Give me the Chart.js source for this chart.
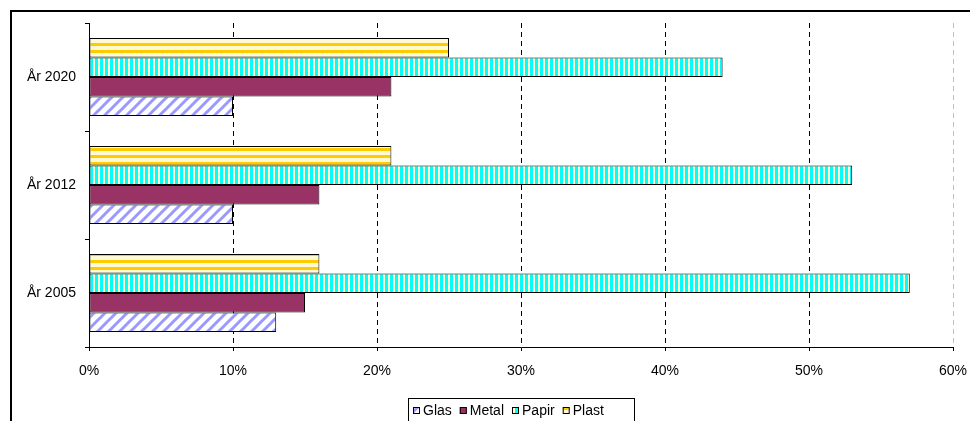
<!DOCTYPE html>
<html>
<head>
<meta charset="utf-8">
<script src="https://cdn.jsdelivr.net/npm/chart.js@4/dist/chart.umd.min.js"></script>
<style>
  html, body { margin: 0; padding: 0; background: #fff; overflow: hidden; }
  #wrap { position: relative; width: 970px; height: 421px; overflow: hidden; }
  #frame { position: absolute; left: 10px; top: 10px; width: 1200px; height: 800px;
           border-left: 2px solid #000; border-top: 2px solid #000; }
  canvas { position: absolute; left: 0; top: 0; }
</style>
</head>
<body>
<div id="wrap">
  <div id="frame"></div>
  <canvas id="chart" width="970" height="421"></canvas>
</div>
<script>
// --- Data ---
const categories = ['År 2020', 'År 2012', 'År 2005']
const glas = [10, 10, 13]
const metal = [21, 16, 15]
const papir = [44, 53, 57]
const plast = [25, 21, 16]
const xTicks = [0, 10, 20, 30, 40, 50, 60]

const FONT = '"Liberation Sans", Arial, sans-serif'

// --- Fill patterns ---
function makePattern(kind) {
  const c = document.createElement('canvas')
  const g = c.getContext('2d')
  if (kind === 'glas') {
    c.width = 11; c.height = 11
    g.fillStyle = '#fff'
    g.fillRect(0, 0, 11, 11)
    g.strokeStyle = '#9999ff'
    g.lineWidth = 3
    const segs = [[-2, 13, 13, -2], [-2, 2, 2, -2], [9, 13, 13, 9]]
    segs.forEach(s => { g.beginPath(); g.moveTo(s[0], s[1]); g.lineTo(s[2], s[3]); g.stroke() })
  } else if (kind === 'papir') {
    c.width = 5; c.height = 1
    g.fillStyle = '#ffffcc'
    g.fillRect(0, 0, 5, 1)
    g.fillStyle = '#00ffff'
    g.fillRect(0, 0, 3, 1)
  } else if (kind === 'plast') {
    c.width = 1; c.height = 7
    g.fillStyle = '#fff9d6'
    g.fillRect(0, 0, 1, 7)
    g.fillStyle = '#ffcc00'
    g.fillRect(0, 1, 1, 3)
  }
  return g.createPattern(c, 'repeat')
}

const ctx = document.getElementById('chart').getContext('2d')

// legend drawn inside its own frame at the bottom
const frameLegend = {
  id: 'frameLegend',
  afterDraw(chart) {
    const c = chart.ctx
    const left = 408, right = 634, top = 398
    c.save()
    c.strokeStyle = '#000'
    c.lineWidth = 1
    c.strokeRect(left + 0.5, top + 0.5, right - left, 40)
    c.font = '14px ' + FONT
    c.textBaseline = 'middle'
    const items = chart.data.datasets.slice().reverse()
    const box = 7, gapText = 3, gapItem = 8
    let x = left + 5
    const cy = 410
    items.forEach(ds => {
      c.fillStyle = ds.backgroundColor
      c.fillRect(x, cy - 3, box, box)
      c.strokeStyle = '#000'
      c.strokeRect(x + 0.5, cy - 3 + 0.5, box - 1, box - 1)
      c.fillStyle = '#000'
      c.fillText(ds.label, x + box + gapText, cy + 1)
      x += box + gapText + c.measureText(ds.label).width + gapItem
    })
    c.restore()
  }
}

new Chart(ctx, {
  type: 'bar',
  data: {
    labels: categories,
    datasets: [
      { label: 'Plast', data: plast, backgroundColor: makePattern('plast') },
      { label: 'Papir', data: papir, backgroundColor: makePattern('papir') },
      { label: 'Metal', data: metal, backgroundColor: '#993366' },
      { label: 'Glas', data: glas, backgroundColor: makePattern('glas') }
    ]
  },
  options: {
    indexAxis: 'y',
    responsive: false,
    animation: false,
    layout: { padding: { top: 23, right: 17, left: 0, bottom: 0 } },
    datasets: {
      bar: {
        borderColor: '#000',
        borderWidth: 1,
        borderSkipped: false,
        barPercentage: 1,
        categoryPercentage: 0.72
      }
    },
    plugins: {
      legend: { display: false },
      tooltip: { enabled: false }
    },
    scales: {
      x: {
        min: 0,
        max: 60,
        afterFit: s => { s.height = 74; s.paddingLeft = 0; s.paddingRight = 0 },
        afterBuildTicks: s => { s.ticks = xTicks.map(v => ({ value: v })) },
        ticks: {
          color: '#000',
          padding: 12,
          font: { family: FONT, size: 14 },
          callback: v => v + '%'
        },
        grid: {
          color: c => (c.tick && c.tick.value === 60 ? '#c0c0c0' : '#000'),
          tickColor: '#000',
          tickLength: 4,
          lineWidth: 1
        },
        border: { display: true, color: '#000', width: 1, dash: [5, 4] }
      },
      y: {
        afterFit: s => { s.width = 89 },
        ticks: {
          color: '#000',
          padding: 9,
          font: { family: FONT, size: 14 }
        },
        grid: {
          drawOnChartArea: false,
          color: '#000',
          tickLength: 4,
          offset: true
        },
        border: { display: true, color: '#000', width: 1 }
      }
    }
  },
  plugins: [frameLegend]
})
</script>
</body>
</html>
